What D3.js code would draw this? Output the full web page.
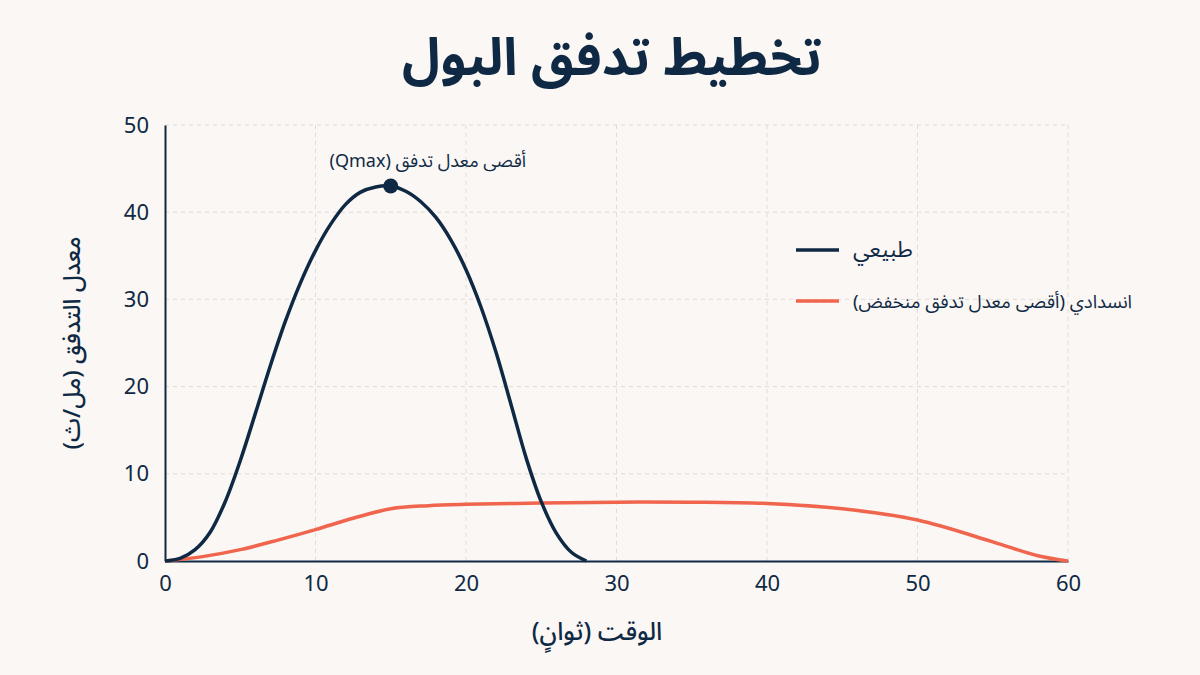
<!DOCTYPE html>
<html><head><meta charset="utf-8">
<script src="https://cdn.jsdelivr.net/npm/d3@7"></script>
<style>
html,body{margin:0;padding:0;background:#faf7f4;}
svg{display:block;font-family:"Noto Sans Arabic","Noto Sans",sans-serif;}
</style></head>
<body>
<svg id="c" width="1200" height="675"></svg>
<script>
const titleText = "تخطيط تدفق البول";
const xLabel = "الوقت (ثوانٍ)";
const yLabel = "معدل التدفق (مل/ث)";
const peakLabel = "أقصى معدل تدفق (Qmax)";
const seriesNames = ["طبيعي", "انسدادي (أقصى معدل تدفق منخفض)"];
const xTicks = [0,10,20,30,40,50,60];
const yTicks = [0,10,20,30,40,50];

const normalT = [0,1,2,3,4,5,6,7,8,9,10,11,12,13,14,15,16,17,18,19,20,21,22,23,24,25,26,27,28];
const normalV = [0,0.3,1.3,3.3,6.8,11.5,16.9,22.4,27.5,31.9,35.6,38.6,40.9,42.3,42.9,43,42.4,41.2,39.4,36.8,33.4,29.1,23.9,17.9,11.8,6.8,3.2,1.0,0];

const obstrT = [0,2.5,5,7.5,10,12.5,15,17.5,20,25,30,35,40,45,50,55,58,60];
const obstrV = [0,0.5,1.3,2.4,3.6,4.9,6.0,6.35,6.5,6.65,6.75,6.75,6.6,6.0,4.7,2.2,0.6,0];

const peak = {t:15, v:43};

const navy = "#0f2944", orange = "#f0654d";
const svg = d3.select("#c");
const x = d3.scaleLinear().domain([0,60]).range([165,1068]);
const y = d3.scaleLinear().domain([0,50]).range([561,125]);

// grid
const g = svg.append("g");
g.selectAll(".vg").data(xTicks.filter(d=>d>0)).join("line")
  .attr("x1",d=>x(d)).attr("x2",d=>x(d)).attr("y1",y(0)).attr("y2",y(50))
  .attr("stroke","#dedbd8").attr("stroke-dasharray","4,4").attr("stroke-width",1);
g.selectAll(".hg").data(yTicks.filter(d=>d>0)).join("line")
  .attr("x1",x(0)).attr("x2",x(60)).attr("y1",d=>y(d)).attr("y2",d=>y(d))
  .attr("stroke","#dedbd8").attr("stroke-dasharray","4,4").attr("stroke-width",1);

// axes
const xAxis = svg.append("g").attr("transform",`translate(0,${y(0)})`)
  .call(d3.axisBottom(x).tickValues(xTicks).tickSize(0).tickPadding(14));
const yAxis = svg.append("g").attr("transform",`translate(${x(0)},0)`)
  .call(d3.axisLeft(y).tickValues(yTicks).tickSize(0).tickPadding(16));
[xAxis,yAxis].forEach(a=>{
  a.select(".domain").attr("stroke",navy).attr("stroke-width",2);
  a.selectAll("text").attr("fill",navy).attr("font-size",22).attr("font-family","'Noto Sans',sans-serif");
});

// lines
const lineN = d3.line().x(d=>x(d[0])).y(d=>y(d[1])).curve(d3.curveCatmullRom.alpha(0.5));
svg.append("path").datum(obstrT.map((t,i)=>[t,obstrV[i]]))
  .attr("d",lineN).attr("fill","none").attr("stroke",orange).attr("stroke-width",3.5);
svg.append("path").datum(normalT.map((t,i)=>[t,normalV[i]]))
  .attr("d",lineN).attr("fill","none").attr("stroke",navy).attr("stroke-width",3.5);

// peak
svg.append("circle").attr("cx",x(peak.t)).attr("cy",y(peak.v)).attr("r",7.5).attr("fill",navy);
svg.append("text").attr("x",x(peak.t)+37).attr("y",y(peak.v)-19)
  .attr("direction","rtl").attr("text-anchor","middle")
  .attr("font-size",18).attr("fill",navy).text(peakLabel);

// title
svg.append("text").attr("x",612).attr("y",75).attr("direction","rtl").attr("text-anchor","middle")
  .attr("font-size",52).attr("font-weight","bold").attr("fill",navy).text(titleText);

// axis labels
svg.append("text").attr("x",597).attr("y",640).attr("direction","rtl").attr("text-anchor","middle")
  .attr("font-size",25).attr("font-weight",500).attr("fill",navy).text(xLabel);
svg.append("text").attr("transform",`translate(80,343) rotate(-90)`).attr("direction","rtl").attr("text-anchor","middle")
  .attr("font-size",24).attr("font-weight",500).attr("fill",navy).text(yLabel);

// legend
const colors = [navy, orange];
const ly = [250, 301];
const lfs = [22.5, 18.5];
seriesNames.forEach((n,i)=>{
  svg.append("line").attr("x1",796).attr("x2",839).attr("y1",ly[i]).attr("y2",ly[i])
    .attr("stroke",colors[i]).attr("stroke-width",3.5);
  svg.append("text").attr("x",853).attr("y",ly[i]+7).attr("direction","rtl").attr("text-anchor","end")
    .attr("font-size",lfs[i]).attr("fill",navy).text(n);
});
</script>
</body></html>
